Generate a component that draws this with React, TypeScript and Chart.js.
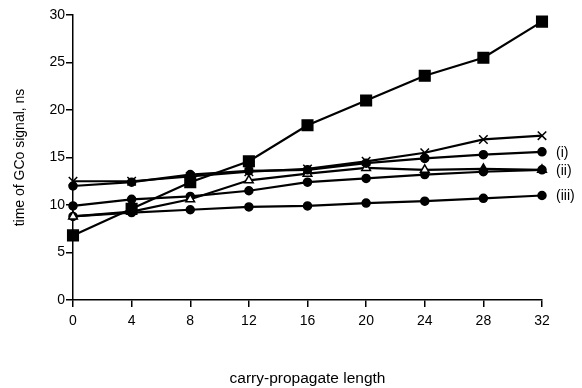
import React, { useEffect, useRef } from "react";
import { Chart, registerables } from "chart.js";

Chart.register(...registerables);

const lengths = [0, 4, 8, 12, 16, 20, 24, 28, 32];
const squareSeries = [6.8, 9.6, 12.4, 14.6, 18.4, 21.0, 23.6, 25.5, 29.3];
const crossSeries = [12.5, 12.5, 13.0, 13.5, 13.8, 14.6, 15.5, 16.9, 17.3];
const seriesI = [12.0, 12.4, 13.2, 13.6, 13.7, 14.4, 14.9, 15.3, 15.6];
const seriesII = [8.8, 9.3, 10.6, 12.6, 13.3, 13.9, 13.7, 13.8, 13.7];
const circleMid = [9.9, 10.6, 10.9, 11.5, 12.4, 12.8, 13.2, 13.5, 13.7];
const seriesIII = [8.8, 9.2, 9.5, 9.8, 9.9, 10.2, 10.4, 10.7, 11.0];
const xTicks = [0, 4, 8, 12, 16, 20, 24, 28, 32];
const yTicks = [0, 5, 10, 15, 20, 25, 30];
const endLabels = ["(i)", "(ii)", "(iii)"];

const FONT = "'Liberation Sans', Arial, Helvetica, sans-serif";

const pts = (arr: number[]) => lengths.map((x, i) => ({ x, y: arr[i] }));

export default function App() {
  const ref = useRef<HTMLCanvasElement | null>(null);

  useEffect(() => {
    if (!ref.current) return;
    const base = {
      borderColor: "#000",
      borderWidth: 2.2,
      pointBorderColor: "#000",
      pointBorderWidth: 1.5,
      tension: 0,
      clip: false as any,
    };
    const labelPlugin = {
      id: "endLabels",
      afterDatasetsDraw(chart: any) {
        const ctx = chart.ctx;
        const idx = [2, 3, 5];
        ctx.save();
        ctx.font = `14px ${FONT}`;
        ctx.fillStyle = "#000";
        ctx.textBaseline = "middle";
        ctx.textAlign = "left";
        idx.forEach((d, k) => {
          const meta = chart.getDatasetMeta(d);
          const p = meta.data[meta.data.length - 1];
          ctx.fillText(endLabels[k], p.x + 14, p.y + 1);
        });
        ctx.restore();
      },
    };
    const chart = new Chart(ref.current, {
      type: "line",
      data: {
        datasets: [
          { ...base, data: pts(squareSeries), pointStyle: "rect", pointRadius: 7.5, pointBackgroundColor: "#000" },
          { ...base, data: pts(crossSeries), pointStyle: "crossRot", pointRadius: 6, pointBorderWidth: 1.5 },
          { ...base, data: pts(seriesI), pointStyle: "circle", pointRadius: 4, pointBackgroundColor: "#000" },
          {
            ...base,
            data: pts(seriesII),
            pointStyle: "triangle",
            pointRadius: 5,
            pointBackgroundColor: lengths.map((x) => (x >= 28 ? "#000" : "#fff")),
          },
          { ...base, data: pts(circleMid), pointStyle: "circle", pointRadius: 4, pointBackgroundColor: "#000" },
          { ...base, data: pts(seriesIII), pointStyle: "circle", pointRadius: 4, pointBackgroundColor: "#000" },
        ] as any,
      },
      plugins: [labelPlugin],
      options: {
        animation: false,
        responsive: false,
        maintainAspectRatio: false,
        layout: { padding: { left: 0, top: 15, right: 40, bottom: 0 } },
        plugins: { legend: { display: false }, tooltip: { enabled: false } },
        scales: {
          x: {
            type: "linear",
            min: 0,
            max: 32,
            afterBuildTicks: (s: any) => {
              s.ticks = xTicks.map((v) => ({ value: v }));
            },
            afterFit: (s: any) => {
              s.height = 88;
            },
            ticks: { color: "#000", font: { family: FONT, size: 14 }, padding: 6, maxRotation: 0 },
            grid: { drawOnChartArea: false, drawTicks: true, tickLength: 7, color: "#000", lineWidth: 1.5 },
            border: { display: true, color: "#000", width: 1.5 },
            title: {
              display: true,
              text: "carry-propagate length",
              color: "#000",
              font: { family: FONT, size: 15.5 },
              padding: { top: 0, bottom: 0 },
            },
          },
          y: {
            type: "linear",
            min: 0,
            max: 30,
            afterBuildTicks: (s: any) => {
              s.ticks = yTicks.map((v) => ({ value: v }));
            },
            afterFit: (s: any) => {
              s.width = 73;
            },
            ticks: { color: "#000", font: { family: FONT, size: 14 }, padding: 1 },
            grid: { drawOnChartArea: false, drawTicks: true, tickLength: 7, color: "#000", lineWidth: 1.5 },
            border: { display: true, color: "#000", width: 1.5 },
            title: {
              display: true,
              text: "time of GCo signal, ns",
              color: "#000",
              font: { family: FONT, size: 14 },
              padding: { top: 12, bottom: 0 },
            },
          },
        },
      } as any,
    });
    return () => chart.destroy();
  }, []);

  return (
    <div style={{ position: "fixed", left: 0, top: 0, width: 582, height: 388, background: "#fff" }}>
      <canvas ref={ref} width={582} height={388} style={{ width: 582, height: 388, display: "block" }} />
    </div>
  );
}
